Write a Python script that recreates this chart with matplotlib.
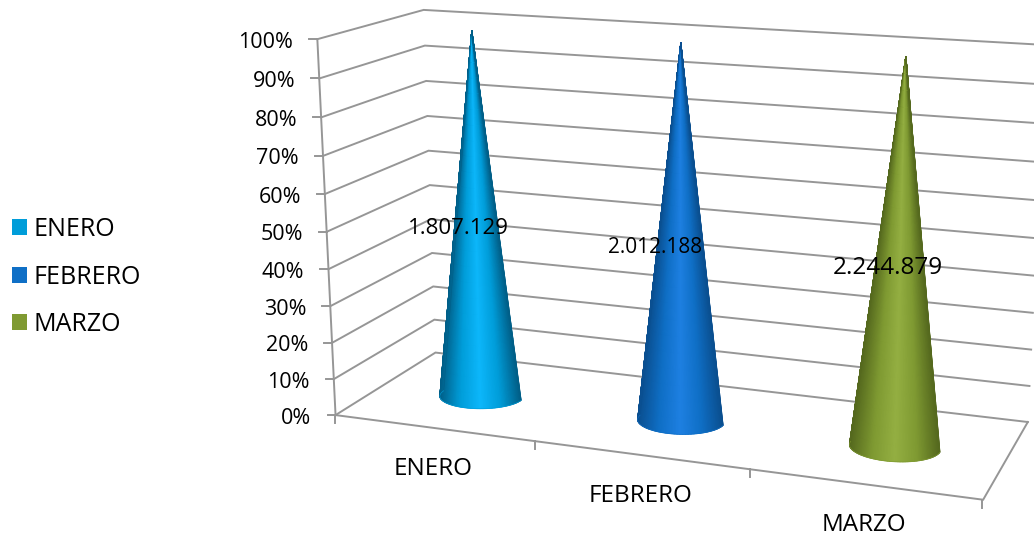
import matplotlib
matplotlib.use("Agg")
import matplotlib.pyplot as plt
import numpy as np
from matplotlib.colors import LinearSegmentedColormap
from matplotlib.patches import Patch

categorias = ["ENERO", "FEBRERO", "MARZO"]
valores = [1807129, 2012188, 2244879]
etiquetas = ["1.807.129", "2.012.188", "2.244.879"]
porcentajes = [100, 100, 100]
ticks_y = [0, 10, 20, 30, 40, 50, 60, 70, 80, 90, 100]
colores = ["#009DD9", "#0F6FC6", "#7F9A32"]
sombra = ["#005F88", "#0A4F90", "#55691E"]
brillo = ["#0DB7FB", "#1E80E2", "#94AF42"]

plt.rcParams["font.family"] = ["Open Sans", "DejaVu Sans"]

# esquinas de la caja 3D en pixeles de la imagen (x, pct, fondo)
esquinas = [
    ((0, 0, 0), (336, 415)),
    ((0, 1, 0), (317, 39)),
    ((0, 0, 1), (435, 352.7)),
    ((0, 1, 1), (424, 10)),
    ((1, 0, 1), (1028, 421.7)),
    ((1, 0, 0), (983, 500)),
    ((1, 1, 1), (1045, 45)),
]


def calcular_camara(pares):
    filas = []
    for (x, y, z), (u, v) in pares:
        filas.append([x, y, z, 1, 0, 0, 0, 0, -u * x, -u * y, -u * z, -u])
        filas.append([0, 0, 0, 0, x, y, z, 1, -v * x, -v * y, -v * z, -v])
    _, _, vt = np.linalg.svd(np.array(filas, dtype=float))
    return vt[-1].reshape(3, 4)


camara = calcular_camara(esquinas)


def proyectar(x, y, z):
    x, y, z = np.broadcast_arrays(x, y, z)
    p = np.stack([x, y, z, np.ones_like(x, dtype=float)], axis=-1) @ camara.T
    return p[..., 0] / p[..., 2], p[..., 1] / p[..., 2]


fig = plt.figure(figsize=(10.34, 5.37), dpi=100)
ax = fig.add_axes([0, 0, 1, 1])
ax.set_xlim(0, 1034)
ax.set_ylim(537, 0)
ax.axis("off")

gris = "#969696"
lw = 1.4


def linea(puntos):
    xs, ys = proyectar(*np.array(puntos, dtype=float).T)
    ax.plot(xs, ys, color=gris, lw=lw, solid_joinstyle="miter", zorder=1)


# paredes
for t in ticks_y:
    p = t / 100
    linea([(0, p, 0), (0, p, 1), (1, p, 1)])
    xt, yt = proyectar(0.0, p, 0.0)
    ax.plot([xt - 8, xt], [yt, yt], color=gris, lw=lw, zorder=1)
    ax.text(xt - 24, yt + 3, f"{t}%", ha="right", va="center", fontsize=15.5, color="black")

# piso y eje vertical
linea([(0, 0, 0), (1, 0, 0), (1, 0, 1)])
linea([(0, 0, 0), (0, 1, 0)])
n = len(categorias)
for i in range(n + 1):
    xt, yt = proyectar(i / n, 0.0, 0.0)
    ax.plot([xt - 1, xt - 1], [yt, yt + 8], color=gris, lw=lw, zorder=1)

# conos
radio_x = 0.067
radio_z = 0.185
fondo = 0.48
theta = np.linspace(np.pi, 2 * np.pi, 91)
alturas = np.linspace(0, 1, 25)
for i, pct in enumerate(porcentajes):
    cx = (i + 0.5) / n + 0.003
    xb, yb = proyectar(cx + radio_x * np.cos(theta), 0.0, fondo + radio_z * np.sin(theta))
    xp, yp = proyectar(cx, pct / 100, fondo)
    cmap = LinearSegmentedColormap.from_list(
        "cono", [sombra[i], colores[i], brillo[i], colores[i], sombra[i]]
    )
    tono = (xb - xb.min()) / (xb.max() - xb.min())
    X = np.outer(1 - alturas, xb) + np.outer(alturas, np.full_like(xb, xp))
    Y = np.outer(1 - alturas, yb) + np.outer(alturas, np.full_like(yb, yp))
    C = np.tile(tono, (len(alturas), 1))
    ax.pcolormesh(X, Y, C, shading="gouraud", cmap=cmap, vmin=0, vmax=1, zorder=3)
    # contorno para suavizar el borde
    ax.plot([xb[0], xp, xb[-1]], [yb[0], yp, yb[-1]], color=sombra[i], lw=0.4, zorder=3)
    ax.plot(xb, yb, color=colores[i], lw=0.4, zorder=3)

# etiquetas de datos y categorias
tam_etiqueta = [16, 15, 17.5]
desp_etiqueta = [(-17, 11), (-24, 11), (-10, 12)]
for i, txt in enumerate(etiquetas):
    cx = (i + 0.5) / n
    xm, ym = proyectar(cx, 0.5, fondo)
    dx, dy = desp_etiqueta[i]
    ax.text(xm + dx, ym + dy, txt, ha="center", va="center", fontsize=tam_etiqueta[i], color="black", zorder=4)
    xc, yc = proyectar(cx, 0.0, 0.0)
    ax.text(xc - 1, yc + 41, categorias[i], ha="center", va="center", fontsize=17.5, color="black")

# leyenda
handles = [Patch(facecolor=c, edgecolor="none", label=l) for c, l in zip(colores, categorias)]
ax.legend(
    handles=handles, loc="center left", bbox_to_anchor=(0.0, 0.484), frameon=False,
    fontsize=18, handlelength=0.6, handleheight=0.6, handletextpad=0.24,
    labelspacing=0.9, borderaxespad=0.0, borderpad=0.48,
)

plt.savefig("out.png", dpi=100)
plt.close()
